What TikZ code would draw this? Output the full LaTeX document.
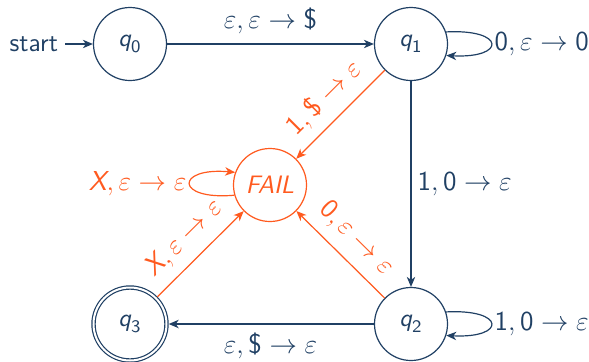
\RequirePackage{fix-cm}
\documentclass[tikz,border=0pt]{standalone}
\usetikzlibrary{arrows.meta}
\definecolor{myblue}{HTML}{204064}
\definecolor{myorange}{HTML}{FF5A1F}
\newcommand{\sq}[1]{$\textsf{\itshape q}_{\mathsf{#1}}$}
\newcommand{\dol}{\textsf{\$}}
\begin{document}
\begin{tikzpicture}[x=0.5pt,y=0.5pt,
  font=\fontsize{13}{15.6}\selectfont\sffamily,
  state/.style={circle, draw=myblue, text=myblue, minimum size=36.5pt, inner sep=0pt, line width=0.6pt, font=\fontsize{12.6}{15}\selectfont\sffamily},
  edge/.style={draw=myblue, line width=0.6pt, -{Stealth[length=5pt,width=4.2pt,inset=1.5pt]}},
  fedge/.style={edge, draw=myorange},
  lab/.style={text=myblue, font=\fontsize{13.7}{16.5}\selectfont\sffamily},
  flab/.style={lab, text=myorange}]
\useasboundingbox (0,0) rectangle (589,361);
\node[state] (q0) at (130,317) {\sq{0}};
\node[state] (q1) at (411,317) {\sq{1}};
\node[state] (q2) at (411,37) {\sq{2}};
\node[state, double, double distance=1pt] (q3) at (130,37) {\sq{3}};
\node[state, draw=myorange, text=myorange] (F) at (270,176) {\textit{FAIL}};
\node[text=myblue, anchor=east] (s) at (65,317) {start};

\draw[edge] (s) -- (q0);
\draw[edge] (q0) -- node[lab, above=1.5pt] {$\varepsilon,\varepsilon\rightarrow\dol$} (q1);
\draw[edge] (q1.19) .. controls +(3:60) and +(-3:60) .. node[lab, right, inner sep=1.5pt] {$\mathsf{0},\varepsilon\rightarrow\mathsf{0}$} (q1.-18);
\draw[edge] (q1) -- node[lab, right, inner sep=3pt] {$\mathsf{1},\mathsf{0}\rightarrow\varepsilon$} (q2);
\draw[edge] (q2.19) .. controls +(3:60) and +(-3:60) .. node[lab, right, inner sep=1.5pt] {$\mathsf{1},\mathsf{0}\rightarrow\varepsilon$} (q2.-18);
\draw[edge, shorten >=0.8pt] (q2) -- node[lab, below=1pt] {$\varepsilon,\dol\rightarrow\varepsilon$} (q3);
\draw[fedge] (q1) -- node[flab, sloped, above=1.5pt] {$\mathsf{1},\dol\rightarrow\varepsilon$} (F);
\draw[fedge, shorten <=0.8pt] (q3) -- node[flab, sloped, above=1.5pt] {$\textsf{\itshape X},\varepsilon\rightarrow\varepsilon$} (F);
\draw[fedge] (q2) -- node[flab, sloped, above=1.5pt] {$\mathsf{0},\varepsilon\rightarrow\varepsilon$} (F);
\draw[fedge] (F.196) .. controls +(185:60) and +(175:60) .. node[flab, left, inner sep=1.5pt] {$\textsf{\itshape X},\varepsilon\rightarrow\varepsilon$} (F.160);
\end{tikzpicture}
\end{document}
